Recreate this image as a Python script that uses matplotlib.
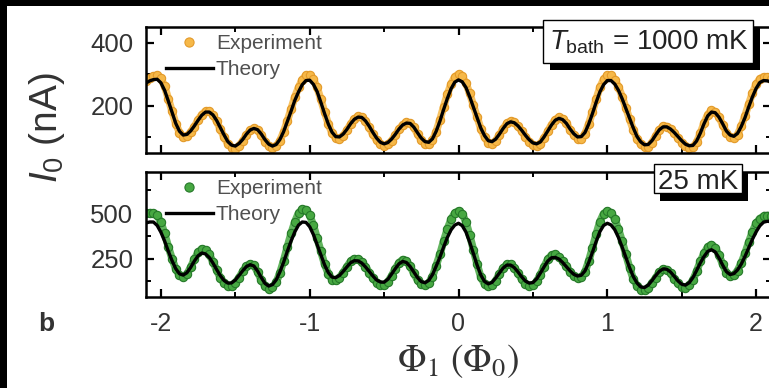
import numpy as np
import matplotlib
matplotlib.use("Agg")
import matplotlib.pyplot as plt
from matplotlib.patches import Rectangle
from matplotlib.ticker import MultipleLocator

plt.rcParams["font.family"] = ["Liberation Sans", "DejaVu Sans"]
plt.rcParams["mathtext.fontset"] = "custom"
plt.rcParams["mathtext.rm"] = "Liberation Sans"
plt.rcParams["mathtext.it"] = "Liberation Sans:italic"
plt.rcParams["mathtext.bf"] = "Liberation Sans:bold"
plt.rcParams["axes.unicode_minus"] = False

# Flux sweep: Phi_1 in units of Phi_0, from -2.1 in steps of 0.025
PHI_START = -2.1
PHI_STEP = 0.025

# Critical current I_0 (nA) at T_bath = 1000 mK
i0_1000mK_exp = [
    280, 288, 294, 297, 288, 262, 222, 182, 143, 115,
    101, 103, 116, 134, 155, 172, 183, 182, 171, 150,
    125, 100, 79, 67, 64, 73, 88, 107, 122, 128,
    122, 106, 86, 71, 65, 71, 89, 117, 152, 190,
    228, 258, 283, 297, 299, 284, 258, 220, 180, 142,
    113, 97, 95, 105, 122, 142, 158, 166, 164, 151,
    131, 109, 90, 77, 72, 77, 89, 106, 125, 140,
    147, 145, 131, 110, 91, 79, 77, 90, 118, 155,
    197, 236, 269, 292, 300, 293, 272, 239, 202, 164,
    127, 100, 83, 80, 89, 107, 127, 144, 151, 147,
    135, 119, 101, 86, 75, 72, 79, 97, 119, 140,
    156, 163, 158, 144, 124, 107, 95, 96, 111, 142,
    180, 221, 258, 284, 297, 297, 283, 260, 229, 193,
    157, 123, 95, 77, 68, 70, 83, 104, 124, 135,
    134, 126, 113, 98, 83, 71, 66, 68, 84, 112,
    145, 172, 185, 181, 164, 140, 115, 100, 97, 108,
    135, 168, 205, 240, 268, 286, 292, 290, 286,
]
i0_1000mK_theory = [
    272, 279, 283, 284, 273, 249, 215, 179, 144, 119,
    107, 109, 120, 136, 154, 170, 180, 180, 171, 153,
    130, 107, 86, 75, 72, 80, 93, 110, 123, 128,
    124, 110, 92, 78, 72, 77, 93, 118, 150, 183,
    217, 244, 267, 280, 281, 268, 245, 211, 175, 142,
    116, 102, 101, 110, 125, 143, 157, 164, 163, 152,
    135, 115, 97, 84, 79, 83, 94, 109, 126, 139,
    145, 144, 132, 114, 97, 86, 84, 95, 119, 151,
    188, 223, 254, 275, 282, 276, 258, 229, 196, 162,
    129, 105, 89, 86, 94, 110, 128, 143, 149, 146,
    136, 122, 106, 92, 82, 79, 85, 101, 120, 139,
    154, 160, 156, 144, 126, 111, 101, 102, 115, 142,
    175, 211, 244, 267, 280, 280, 269, 249, 222, 191,
    160, 129, 102, 85, 76, 77, 89, 107, 124, 133,
    133, 126, 115, 102, 89, 78, 73, 74, 88, 113,
    143, 168, 180, 178, 164, 143, 120, 107, 103, 112,
    134, 162, 196, 228, 255, 274, 280, 279, 276,
]

# Critical current I_0 (nA) at T_bath = 25 mK
i0_25mK_exp = [
    498, 502, 500, 488, 450, 388, 316, 250, 194, 158,
    149, 165, 203, 247, 284, 304, 297, 273, 233, 187,
    144, 116, 102, 103, 119, 146, 180, 209, 222, 213,
    177, 132, 100, 86, 94, 120, 172, 240, 316, 388,
    452, 500, 521, 519, 488, 433, 363, 291, 220, 167,
    135, 132, 146, 174, 206, 236, 250, 249, 233, 206,
    174, 142, 119, 108, 107, 123, 155, 194, 228, 245,
    237, 209, 169, 132, 110, 104, 117, 151, 212, 274,
    346, 412, 466, 500, 512, 496, 451, 380, 300, 219,
    149, 111, 98, 106, 130, 164, 199, 219, 219, 201,
    171, 136, 113, 102, 105, 125, 163, 206, 247, 270,
    273, 261, 237, 208, 178, 154, 143, 148, 178, 237,
    309, 384, 453, 497, 512, 501, 468, 412, 345, 273,
    200, 137, 102, 81, 78, 91, 116, 145, 176, 192,
    190, 171, 140, 114, 96, 91, 104, 132, 181, 235,
    279, 315, 327, 311, 270, 219, 173, 153, 159, 185,
    226, 279, 340, 398, 444, 470, 482, 486, 485,
]
i0_25mK_theory = [
    446, 451, 451, 432, 395, 347, 291, 239, 195, 167,
    160, 173, 202, 237, 266, 281, 276, 257, 226, 190,
    156, 130, 116, 117, 133, 158, 184, 207, 217, 210,
    182, 146, 114, 100, 108, 134, 178, 231, 291, 347,
    397, 434, 451, 449, 425, 382, 327, 271, 216, 174,
    149, 146, 158, 180, 205, 228, 239, 238, 226, 205,
    180, 155, 133, 122, 121, 137, 165, 195, 222, 235,
    229, 207, 176, 146, 124, 118, 131, 162, 209, 258,
    314, 366, 408, 434, 444, 431, 396, 341, 278, 215,
    160, 125, 112, 120, 144, 172, 199, 215, 215, 201,
    177, 150, 127, 116, 119, 139, 171, 205, 237, 255,
    257, 248, 229, 206, 183, 164, 155, 159, 183, 229,
    285, 344, 398, 432, 444, 435, 409, 366, 313, 257,
    200, 151, 116, 95, 92, 105, 130, 157, 181, 194,
    192, 177, 153, 128, 110, 105, 118, 146, 185, 227,
    262, 290, 299, 287, 255, 215, 179, 163, 168, 188,
    220, 262, 309, 356, 397, 430, 450, 455, 453,
]

x_ticks = [-2, -1, 0, 1, 2]


def flux_grid(n):
    return np.round(PHI_START + PHI_STEP * np.arange(n), 3)


W, H = 769, 388
fig = plt.figure(figsize=(W / 100, H / 100), dpi=100, facecolor="white")


def fig_rect(left, top, right, bottom, **kw):
    """Rectangle given in pixel coordinates measured from the top-left corner."""
    r = Rectangle((left / W, 1 - bottom / H), (right - left) / W, (bottom - top) / H,
                  transform=fig.transFigure, **kw)
    fig.add_artist(r)
    return r


# dark frame strips along the left and top edges
fig_rect(0, 0, 7, H, fc="black", ec="none", zorder=20)
fig_rect(0, 0, W, 6, fc="black", ec="none", zorder=20)


def axes_px(left, top, right, bottom):
    return fig.add_axes([left / W, 1 - bottom / H, (right - left) / W, (bottom - top) / H])


ax_top = axes_px(146, 27, 771, 153)
ax_bot = axes_px(146, 172, 771, 297)

label_gray = "#333333"


def draw_panel(ax, exp, theory, face, edge, ylim, major, minor):
    phi_e = flux_grid(len(exp))
    phi_t = flux_grid(len(theory))
    # dense measurement trace: a soft band under the individual points
    ax.plot(phi_e, exp, "-", color=face, lw=5.5, alpha=0.85, zorder=1.5,
            solid_capstyle="round")
    ax.plot(phi_e, exp, "o", ms=6, mfc=face, mec=edge, mew=0.8,
            label="Experiment", zorder=2)
    ax.plot(phi_t, theory, "-", color="black", lw=2.4, label="Theory", zorder=3)
    ax.set_xlim(-2.1, 2.1)
    ax.set_ylim(*ylim)
    ax.set_xticks(x_ticks)
    ax.xaxis.set_minor_locator(MultipleLocator(0.5))
    ax.yaxis.set_major_locator(MultipleLocator(major))
    ax.yaxis.set_minor_locator(MultipleLocator(minor))
    ax.tick_params(which="both", direction="in", top=True, right=True,
                   color="black", labelcolor=label_gray)
    ax.tick_params(which="major", length=6, width=1.6)
    ax.tick_params(which="minor", length=3.5, width=1.4)
    ax.tick_params(axis="y", labelsize=18.5, pad=9)
    ax.tick_params(axis="x", labelsize=18, pad=11)
    for sp in ax.spines.values():
        sp.set_linewidth(1.8)
    leg = ax.legend(loc="upper left", bbox_to_anchor=(0.032, 0.945), frameon=False,
                    fontsize=15, handlelength=2.25, handletextpad=0.15,
                    labelspacing=0.35, borderpad=0, borderaxespad=0,
                    numpoints=1, markerscale=1.1)
    for t in leg.get_texts():
        t.set_color("#505050")


draw_panel(ax_top, i0_1000mK_exp, i0_1000mK_theory, "#F6B848", "#E39A2A",
           (50, 450), 200, 100)
draw_panel(ax_bot, i0_25mK_exp, i0_25mK_theory, "#47A842", "#26792A",
           (40, 725), 250, 125)
ax_top.tick_params(axis="x", labelbottom=False)


def shadow_box(left, top, right, bottom, dx, dy):
    fig_rect(left + dx, top + dy, right + dx, bottom + dy, fc="black", ec="none", zorder=8)
    fig_rect(left, top, right, bottom, fc="white", ec="black", lw=1.0, zorder=9)


shadow_box(543, 20, 753, 63, 7, 7)
fig.text(649 / W, 1 - 50 / H, r"$T_{\mathrm{bath}}$ = 1000 mK", ha="center",
         va="baseline", fontsize=20, color="#222222", zorder=10)
shadow_box(654, 164, 742, 193, 6, 8)
fig.text(698 / W, 1 - 189 / H, "25 mK", ha="center", va="baseline",
         fontsize=20, color="#222222", zorder=10)

fig.text(47 / W, 1 - 128 / H, r"$I_0$ (nA)", rotation=90, ha="center",
         va="center", fontsize=28, color=label_gray)
fig.text(458 / W, 1 - 361 / H, r"$\Phi_1\ (\Phi_0)$", math_fontfamily="stix",
         ha="center", va="center", fontsize=27, color=label_gray)
fig.text(46 / W, 1 - 324 / H, "b", fontweight="bold", ha="center", va="center",
         fontsize=19, color=label_gray)

fig.savefig("out.png", dpi=100, facecolor="white")
